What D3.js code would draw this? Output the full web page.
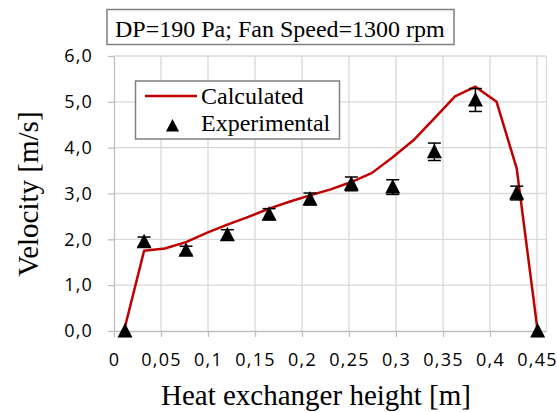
<!DOCTYPE html>
<html lang="en">
<head>
<meta charset="utf-8">
<title>Velocity profile</title>
<script src="https://d3js.org/d3.v7.min.js"></script>
<style>
	body { margin: 0; background: #fff; }
</style>
</head>
<body>
<script>
// chart values
var calcX = [0.0106, 0.032, 0.054, 0.0766, 0.0986, 0.1206, 0.143, 0.165, 0.1865, 0.2085, 0.2305,
             0.2525, 0.2745, 0.2965, 0.3185, 0.3408, 0.3628, 0.3845, 0.407, 0.4284, 0.4507];
var calcV = [0.0, 1.75, 1.80, 1.94, 2.14, 2.32, 2.49, 2.67, 2.82, 2.96, 3.09,
             3.25, 3.45, 3.79, 4.16, 4.64, 5.12, 5.33, 5.0, 3.55, 0.0];
var expX = [0.0117, 0.032, 0.0766, 0.1206, 0.165, 0.2085, 0.2525, 0.2965, 0.3408, 0.3845, 0.4284, 0.4507];
var expV = [0.0, 1.95, 1.76, 2.10, 2.55, 2.88, 3.21, 3.14, 3.91, 5.04, 3.01, 0.0];
var expErr = [0, 0.10, 0.09, 0.11, 0.12, 0.13, 0.15, 0.16, 0.19, 0.25, 0.15, 0];
var xTicks = [0, 0.05, 0.1, 0.15, 0.2, 0.25, 0.3, 0.35, 0.4, 0.45];
var yTicks = [0, 1, 2, 3, 4, 5, 6];

var w = 557, h = 412;
var serif = "'Liberation Serif', 'Times New Roman', serif";
var sans = "'Open Sans', sans-serif";

var xScale = d3.scaleLinear().domain([0, 0.46]).range([114, 546.4]);
var yScale = d3.scaleLinear().domain([0, 6]).range([331, 56]);

var comma = function(d) { return String(d).replace(".", ","); };
var comma1 = function(d) { return d3.format(".1f")(d).replace(".", ","); };

var svg = d3.select("body").append("svg")
	.attr("width", w)
	.attr("height", h);

// grid
svg.append("g").selectAll("line")
	.data(yTicks.slice(1))
	.enter().append("line")
	.attr("x1", xScale(0)).attr("x2", xScale(0.46))
	.attr("y1", d => yScale(d)).attr("y2", d => yScale(d))
	.attr("stroke", "#d9d9d9").attr("stroke-width", 1.3);
svg.append("g").selectAll("line")
	.data(xTicks.slice(1).concat([0.46]))
	.enter().append("line")
	.attr("x1", d => xScale(d)).attr("x2", d => xScale(d))
	.attr("y1", yScale(0)).attr("y2", yScale(6))
	.attr("stroke", "#d9d9d9").attr("stroke-width", 1.3);

// axes
var xAxis = d3.axisBottom(xScale).tickValues(xTicks).tickFormat(comma).tickSizeInner(6).tickSizeOuter(0).tickPadding(16);
var yAxis = d3.axisLeft(yScale).tickValues(yTicks).tickFormat(comma1).tickSizeInner(6).tickSizeOuter(0).tickPadding(15);

var gx = svg.append("g")
	.attr("transform", "translate(0," + yScale(0) + ")")
	.call(xAxis);
var gy = svg.append("g")
	.attr("transform", "translate(" + xScale(0) + ",0)")
	.call(yAxis);

[gx, gy].forEach(function(g) {
	g.select(".domain").attr("stroke", "#bfbfbf").attr("stroke-width", 1.3);
	g.selectAll(".tick line").attr("stroke", "#bfbfbf").attr("stroke-width", 1.3);
	g.selectAll(".tick text")
		.attr("fill", "#000")
		.style("font-family", sans)
		.style("font-size", "18px")
		.style("letter-spacing", "1.2px");
});

// axis titles
svg.append("text")
	.attr("x", 316).attr("y", 405)
	.attr("text-anchor", "middle")
	.style("font-family", serif)
	.style("font-size", "29px")
	.text("Heat exchanger height [m]");

svg.append("text")
	.attr("transform", "translate(38,194) rotate(-90)")
	.attr("text-anchor", "middle")
	.style("font-family", serif)
	.style("font-size", "29px")
	.text("Velocity [m/s]");

// calculated line
var line = d3.line()
	.x((d, i) => xScale(calcX[i]))
	.y(d => yScale(d));
svg.append("path")
	.datum(calcV)
	.attr("d", line)
	.attr("fill", "none")
	.attr("stroke", "#c00000")
	.attr("stroke-width", 2.5)
	.attr("stroke-linejoin", "round");

// experimental error bars
var eb = svg.append("g").selectAll("g")
	.data(expV.map((v, i) => ({x: expX[i], v: v, e: expErr[i]})).filter(d => d.e > 0))
	.enter().append("g")
	.attr("stroke", "#000").attr("stroke-width", 1.5);
eb.append("line")
	.attr("x1", d => xScale(d.x)).attr("x2", d => xScale(d.x))
	.attr("y1", d => yScale(d.v - d.e)).attr("y2", d => yScale(d.v + d.e));
eb.append("line")
	.attr("x1", d => xScale(d.x) - 6.5).attr("x2", d => xScale(d.x) + 6.5)
	.attr("y1", d => yScale(d.v + d.e)).attr("y2", d => yScale(d.v + d.e));
eb.append("line")
	.attr("x1", d => xScale(d.x) - 6.5).attr("x2", d => xScale(d.x) + 6.5)
	.attr("y1", d => yScale(d.v - d.e)).attr("y2", d => yScale(d.v - d.e));

// experimental markers
var tri = "M0,-8L7.5,6.5L-7.5,6.5Z";
svg.append("g").selectAll("path")
	.data(expV)
	.enter().append("path")
	.attr("d", tri)
	.attr("transform", (d, i) => "translate(" + xScale(expX[i]) + "," + yScale(d) + ")")
	.attr("fill", "#000");

// legend
var lg = svg.append("g").style("font-family", serif).style("font-size", "24px");
lg.append("rect")
	.attr("x", 135.5).attr("y", 81).attr("width", 204).attr("height", 58)
	.attr("fill", "#fff").attr("stroke", "#808080").attr("stroke-width", 1.5);
lg.append("line")
	.attr("x1", 145).attr("x2", 197).attr("y1", 96).attr("y2", 96)
	.attr("stroke", "#c00000").attr("stroke-width", 2.5);
lg.append("text").attr("x", 201).attr("y", 104).text("Calculated");
lg.append("path")
	.attr("d", "M0,-7L6.5,5.5L-6.5,5.5Z")
	.attr("transform", "translate(172.5,126)")
	.attr("fill", "#000");
lg.append("text").attr("x", 201).attr("y", 131).text("Experimental");

// title box
var tg = svg.append("g");
tg.append("rect")
	.attr("x", 107).attr("y", 9.5).attr("width", 347).attr("height", 35)
	.attr("fill", "#fff").attr("stroke", "#808080").attr("stroke-width", 1.5);
tg.append("text")
	.attr("x", 115).attr("y", 36.5)
	.style("font-family", serif).style("font-size", "24px")
	.text("DP=190 Pa; Fan Speed=1300 rpm");
</script>
</body>
</html>
